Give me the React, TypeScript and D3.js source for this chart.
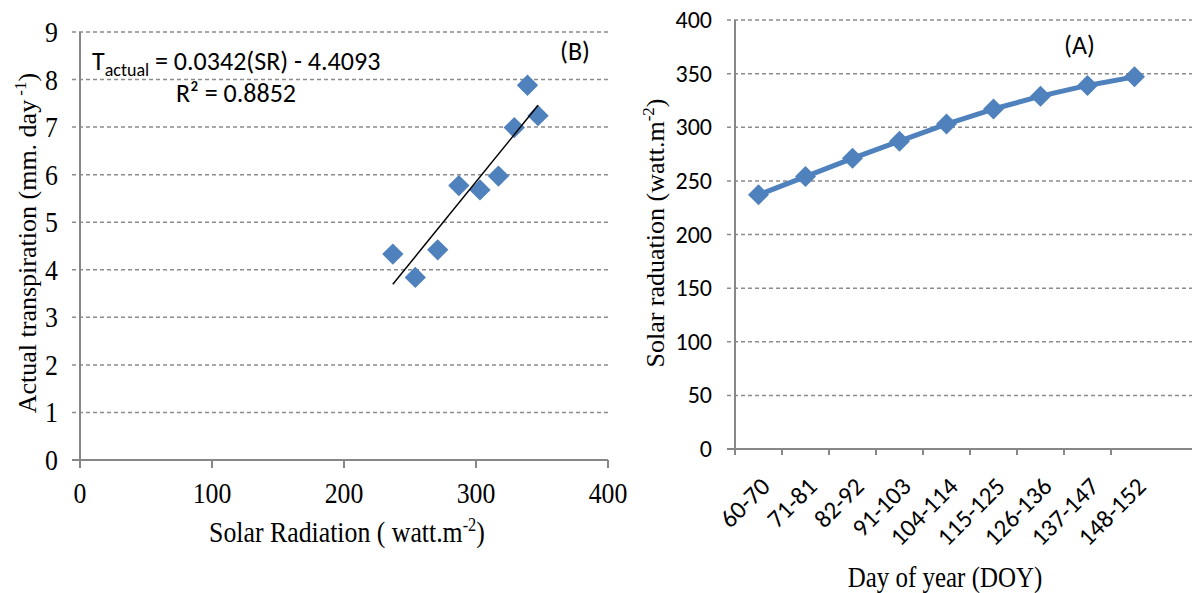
import * as React from 'react';
import * as d3 from 'd3';

// scatter (B): solar radiation vs actual transpiration
const srValues = [237, 254, 271, 287, 303, 317, 329, 339, 347];
const tValues = [4.33, 3.84, 4.42, 5.77, 5.68, 5.97, 6.99, 7.88, 7.24];
const slope = 0.0342;
const intercept = -4.4093;
const bXTicks = [0, 100, 200, 300, 400];
const bYTicks = [0, 1, 2, 3, 4, 5, 6, 7, 8, 9];

// line (A): solar radiation by day-of-year period
const doyPeriods = ['60-70', '71-81', '82-92', '91-103', '104-114', '115-125', '126-136', '137-147', '148-152'];
const radiation = [237, 254, 271, 287, 303, 317, 329, 339, 347];
const aYTicks = [0, 50, 100, 150, 200, 250, 300, 350, 400];

const blue = '#4F81BD';
const grid = '#8c8c8c';
const axisCol = '#878787';
const serif = '"Liberation Serif", "Times New Roman", serif';
const sans = 'Carlito, Lato, "Open Sans", sans-serif';

const diamond = d3.symbol().type(d3.symbolDiamond2);

// the original image is a bit stretched vertically, so serif text is squeezed horizontally
function Serif({ x, y, anchor = 'middle', size = 30, children }: any) {
  return (
    <text transform={`translate(${x},${y}) scale(0.86,1)`} textAnchor={anchor}
      fontFamily={serif} fontSize={size}>{children}</text>
  );
}

export default function App() {
  // chart B
  const bx = d3.scaleLinear().domain([0, 400]).range([80, 608]);
  const by = d3.scaleLinear().domain([0, 9]).range([460, 32]);
  const trend = d3.line<number>()
    .x(d => bx(d))
    .y(d => by(slope * d + intercept));
  const srExtent = d3.extent(srValues) as [number, number];

  // chart A
  const ax = d3.scaleBand().domain(doyPeriods).range([735, 1158]);
  const ay = d3.scaleLinear().domain([0, 400]).range([449, 20]);
  const mid = (p: string) => (ax(p) as number) + ax.bandwidth() / 2;
  const line = d3.line<number>()
    .x((d, i) => mid(doyPeriods[i]))
    .y(d => ay(d));

  return (
    <svg width={1192} height={593} style={{ position: 'absolute', left: 0, top: 0, background: 'white' }}>
      {/* ---------- chart B ---------- */}
      <g>
        {bYTicks.filter(t => t > 0).map(t => (
          <line key={t} x1={72} x2={608} y1={by(t)} y2={by(t)}
            stroke={grid} strokeWidth={1.5} strokeDasharray="4,3" />
        ))}
        <line x1={72} x2={80} y1={by(0)} y2={by(0)} stroke={axisCol} strokeWidth={2} />
        <line x1={80} x2={80} y1={by(9)} y2={by(0)} stroke={axisCol} strokeWidth={2} />
        <line x1={80} x2={608} y1={by(0)} y2={by(0)} stroke={axisCol} strokeWidth={2} />
        {bXTicks.map(t => (
          <line key={t} x1={bx(t)} x2={bx(t)} y1={by(0)} y2={by(0) + 8} stroke={axisCol} strokeWidth={2} />
        ))}
        {bYTicks.map(t => (
          <Serif key={t} x={58} y={by(t) + 10} anchor="end">{t}</Serif>
        ))}
        {bXTicks.map(t => (
          <Serif key={t} x={bx(t)} y={503}>{t}</Serif>
        ))}
        <Serif x={347} y={542}>
          Solar Radiation ( watt.m<tspan dy={-11} fontSize={19}>-2</tspan><tspan dy={11}>)</tspan>
        </Serif>
        <text transform={`translate(36,243) rotate(-90)`} textAnchor="middle" fontFamily={serif} fontSize={26}>
          Actual transpiration (mm. day<tspan dy={-10} fontSize={17}> -1</tspan><tspan dy={10}>)</tspan>
        </text>
        {srValues.map((v, i) => (
          <path key={i} d={diamond.size(290)() as string}
            transform={`translate(${bx(v)},${by(tValues[i])})`} fill={blue} />
        ))}
        <path d={trend(srExtent) as string} stroke="#000" strokeWidth={1.5} fill="none" />
        <text x={92} y={70} fontFamily={sans} fontSize={26}>
          T<tspan dy={6} fontSize={18}>actual</tspan><tspan dy={-6}> = 0.0342(SR) - 4.4093</tspan>
        </text>
        <text x={176} y={102} fontFamily={sans} fontSize={26}>R² = 0.8852</text>
        <text x={560} y={60} fontFamily={sans} fontSize={26}>(B)</text>
      </g>

      {/* ---------- chart A ---------- */}
      <g>
        {aYTicks.filter(t => t > 0).map(t => (
          <line key={t} x1={727} x2={1192} y1={ay(t)} y2={ay(t)}
            stroke={grid} strokeWidth={1.5} strokeDasharray="4,3" />
        ))}
        <line x1={727} x2={735} y1={ay(0)} y2={ay(0)} stroke={axisCol} strokeWidth={2} />
        <line x1={735} x2={735} y1={ay(400)} y2={ay(0)} stroke={axisCol} strokeWidth={2} />
        <line x1={735} x2={1192} y1={ay(0)} y2={ay(0)} stroke={axisCol} strokeWidth={2} />
        {doyPeriods.map(p => (
          <line key={p} x1={ax(p) as number} x2={ax(p) as number} y1={ay(0)} y2={ay(0) + 6}
            stroke={axisCol} strokeWidth={2} />
        ))}
        {aYTicks.map(t => (
          <text key={t} x={712} y={ay(t) + 8} textAnchor="end" fontFamily={sans} fontSize={24}>{t}</text>
        ))}
        {doyPeriods.map(p => (
          <text key={p} transform={`translate(${mid(p) + 13},${488}) rotate(-45)`} textAnchor="end"
            fontFamily={sans} fontSize={25}>{p}</text>
        ))}
        <Serif x={945} y={587} size={29}>Day of year (DOY)</Serif>
        <text transform={`translate(664,233) rotate(-90)`} textAnchor="middle" fontFamily={serif} fontSize={26}>
          Solar raduation (watt.m<tspan dy={-10} fontSize={17}>-2</tspan><tspan dy={10}>)</tspan>
        </text>
        <path d={line(radiation) as string} stroke={blue} strokeWidth={5} fill="none" strokeLinejoin="round" />
        {radiation.map((v, i) => (
          <path key={i} d={diamond.size(280)() as string}
            transform={`translate(${mid(doyPeriods[i])},${ay(v)})`} fill={blue} />
        ))}
        <text x={1064} y={54} fontFamily={sans} fontSize={26}>(A)</text>
      </g>
    </svg>
  );
}
